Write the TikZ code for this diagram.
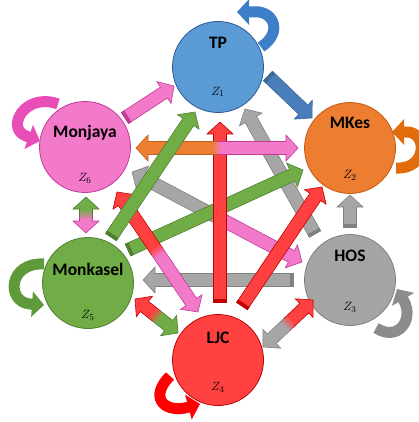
\documentclass[tikz,border=0pt]{standalone}
\usepackage{fontspec}
\newfontfamily\lblfont{Carlito}
\usetikzlibrary{arrows.meta,calc}
\definecolor{tpF}{HTML}{5B9BD5}\definecolor{tpL}{HTML}{2F5597}
\definecolor{mkF}{HTML}{ED7D31}\definecolor{mkL}{HTML}{C55A11}
\definecolor{hoF}{HTML}{A5A5A5}\definecolor{hoL}{HTML}{7F7F7F}
\definecolor{ljF}{HTML}{FF4141}\definecolor{ljL}{HTML}{C00000}
\definecolor{gkF}{HTML}{70AD47}\definecolor{gkL}{HTML}{507E32}
\definecolor{pkF}{HTML}{F27AC9}\definecolor{pkL}{HTML}{C0399B}
\definecolor{buF}{HTML}{4A7EBB}\definecolor{buL}{HTML}{3A6A9A}
\definecolor{orF}{HTML}{ED7D31}\definecolor{orL}{HTML}{C0601A}
\definecolor{grF}{HTML}{A6A6A6}\definecolor{grL}{HTML}{808080}
\definecolor{rdF}{HTML}{FF4040}\definecolor{rdL}{HTML}{C00000}
\definecolor{lpTP}{HTML}{3D7EC8}\definecolor{lpMK}{HTML}{E36C0A}
\definecolor{lpHO}{HTML}{8C8C8C}\definecolor{lpLJ}{HTML}{FF0000}
\definecolor{lpMJ}{HTML}{E84DB8}\definecolor{lpGK}{HTML}{5E9A3A}
\makeatletter
\newcommand\getvec[2]{%
  \pgfpointdiff{\pgfpointanchor{#1}{center}}{\pgfpointanchor{#2}{center}}%
  \edef\vx{\the\pgf@x}\edef\vy{\the\pgf@y}%
  \pgfmathsetmacro\vlen{veclen(\vx,\vy)}%
  \pgfmathsetmacro\vang{atan2(\vy,\vx)}%
}
\makeatother
\def\sw{6.5}\def\hw{13}\def\hl{12}\def\bl{5}
% single block arrow: tail, tip, colour prefix
\newcommand\sarrow[3]{%
  \getvec{#1}{#2}%
  \pgfmathsetmacro\vq{\vlen-\hl}%
  \begin{scope}[shift={(#1)}, rotate=\vang, x=1pt, y=1pt]
    \filldraw[fill=#3F, draw=#3L, line width=0.6pt, line join=miter]
      (0,-\sw) -- (\vq,-\sw) -- (\vq,-\hw) -- (\vlen,0) -- (\vq,\hw) -- (\vq,\sw) -- (0,\sw) -- cycle;
    \filldraw[fill=#3L, draw=#3L, line width=0.6pt] (0,-\sw) rectangle (3,\sw);
  \end{scope}}
% double block arrow: end P, end Q, colour at P, colour at Q
\newcommand\darrow[4]{%
  \getvec{#1}{#2}%
  \pgfmathsetmacro\vm{\vlen/2}%
  \pgfmathsetmacro\va{\vm-\bl}%
  \pgfmathsetmacro\vb{\vm+\bl}%
  \pgfmathsetmacro\vq{\vlen-\hl}%
  \begin{scope}[shift={(#1)}, rotate=\vang, x=1pt, y=1pt]
    \fill[#3F] (\va+0.3,-\sw) -- (\hl,-\sw) -- (\hl,-\hw) -- (0,0) -- (\hl,\hw) -- (\hl,\sw) -- (\va+0.3,\sw) -- cycle;
    \fill[#4F] (\vb-0.3,-\sw) -- (\vq,-\sw) -- (\vq,-\hw) -- (\vlen,0) -- (\vq,\hw) -- (\vq,\sw) -- (\vb-0.3,\sw) -- cycle;
    \foreach \i in {0,...,9}{%
      \pgfmathsetmacro\xa{\va+\i*(\vb-\va)/10}%
      \pgfmathsetmacro\xb{\va+(\i+1)*(\vb-\va)/10+0.3}%
      \pgfmathtruncatemacro\pc{95-\i*10}%
      \fill[#3F!\pc!#4F] (\xa,-\sw) rectangle (\xb,\sw);}
    \draw[#3L, line width=0.6pt, line join=miter] (\vm,-\sw) -- (\hl,-\sw) -- (\hl,-\hw) -- (0,0) -- (\hl,\hw) -- (\hl,\sw) -- (\vm,\sw);
    \draw[#4L, line width=0.6pt, line join=miter] (\vm,-\sw) -- (\vq,-\sw) -- (\vq,-\hw) -- (\vlen,0) -- (\vq,\hw) -- (\vq,\sw) -- (\vm,\sw);
  \end{scope}}
\begin{document}
\begin{tikzpicture}[x=1pt, y=-1pt,
  circ/.style={circle, minimum size=91pt, inner sep=0pt, line width=0.8pt},
  lab/.style={font=\lblfont\bfseries\fontsize{17.5}{20}\selectfont, inner sep=0pt},
  zl/.style={font=\fontsize{13}{15}\selectfont, inner sep=0pt},
  loop/.style={line width=11pt, -{Triangle[length=12pt,width=25pt]}}]
\useasboundingbox (0,0) rectangle (418,422);
% nodes
\node[circ, fill=tpF, draw=tpL] (TP) at (218,67) {};
\node[circ, fill=mkF, draw=mkL] (MK) at (350,148) {};
\node[circ, fill=hoF, draw=hoL] (HO) at (350,280) {};
\node[circ, fill=ljF, draw=ljL] (LJ) at (218,360) {};
\node[circ, fill=gkF, draw=gkL] (GK) at (88,283) {};
\node[circ, fill=pkF, draw=pkL] (MJ) at (85,147) {};
\node[lab] (TPn) at (218,43) {TP};
\node[lab] (MKn) at (350,123) {MKes};
\node[lab] (HOn) at (350,256) {HOS};
\node[lab] (LJn) at (218,338) {LJC};
\node[lab] (GKn) at (88,269) {Monkasel};
\node[lab] (MJn) at (85,133) {Monjaya};
\node[zl] (TPz) at (218,92) {$Z_1$};
\node[zl] (MKz) at (350,175) {$Z_2$};
\node[zl] (HOz) at (350,307) {$Z_3$};
\node[zl] (LJz) at (218,387) {$Z_4$};
\node[zl] (GKz) at (88,315) {$Z_5$};
\node[zl] (MJz) at (85,178) {$Z_6$};
% arrow end points
\coordinate (a1t) at (125,118); \coordinate (a1h) at (174,86);
\coordinate (a2t) at (268,76);  \coordinate (a2h) at (312,118);
\coordinate (d1p) at (86,197);  \coordinate (d1q) at (86,233);
\coordinate (d2p) at (136,148); \coordinate (d2q) at (298,148);
\coordinate (d3p) at (132,172); \coordinate (d3q) at (302,262);
\coordinate (d4p) at (117,192); \coordinate (d4q) at (198,312);
\coordinate (d5p) at (135,299); \coordinate (d5q) at (178,333);
\coordinate (d6p) at (313,300); \coordinate (d6q) at (263,347);
\coordinate (a3t) at (111,237); \coordinate (a3h) at (195,112);
\coordinate (a4t) at (128,250); \coordinate (a4h) at (303,170);
\coordinate (a5t) at (220,302); \coordinate (a5h) at (220,122);
\coordinate (a6t) at (315,234); \coordinate (a6h) at (245,109);
\coordinate (a7t) at (242,306); \coordinate (a7h) at (322,187);
\coordinate (a8t) at (350,227); \coordinate (a8h) at (350,195);
\coordinate (a9t) at (293,280); \coordinate (a9h) at (143,280);
% arrows
\sarrow{a9t}{a9h}{gr}
\sarrow{a6t}{a6h}{gr}
\darrow{d3p}{d3q}{gr}{pk}
\sarrow{a4t}{a4h}{gk}
\darrow{d4p}{d4q}{rd}{pk}
\sarrow{a5t}{a5h}{rd}
\sarrow{a7t}{a7h}{rd}
\darrow{d2p}{d2q}{or}{pk}
\sarrow{a3t}{a3h}{gk}
\sarrow{a8t}{a8h}{gr}
\sarrow{a1t}{a1h}{pk}
\sarrow{a2t}{a2h}{bu}
\darrow{d1p}{d1q}{gk}{pk}
\darrow{d5p}{d5q}{rd}{gk}
\darrow{d6p}{d6q}{rd}{gr}
% self loops
\coordinate (lTPa) at (261,47); \coordinate (lTPb) at (252,12); \coordinate (lTPc) at (237,12);
\draw[loop, lpTP] (lTPa) .. controls (284,32) and (273,9) .. (lTPb) -- (lTPc);
\coordinate (lMKa) at (396,168); \coordinate (lMKb) at (405,132); \coordinate (lMKc) at (392,132);
\draw[loop, lpMK] (lMKa) .. controls (428,170) and (428,130) .. (lMKb) -- (lMKc);
\coordinate (lHOa) at (376,328); \coordinate (lHOb) at (404,301); \coordinate (lHOc) at (397,289);
\draw[loop, lpHO] (lHOa) .. controls (398,342) and (414,320) .. (lHOb) -- (lHOc);
\coordinate (lMJa) at (58,104); \coordinate (lMJb) at (26,136); \coordinate (lMJc) at (40,141);
\draw[loop, lpMJ] (lMJa) .. controls (25,92) and (5,128) .. (lMJb) -- (lMJc);
\coordinate (lGKa) at (44,264); \coordinate (lGKb) at (30,304); \coordinate (lGKc) at (44,305);
\draw[loop, lpGK] (lGKa) .. controls (8,262) and (6,302) .. (lGKb) -- (lGKc);
\coordinate (lLJa) at (170,376); \coordinate (lLJb) at (185,408); \coordinate (lLJc) at (200,404);
\draw[loop, lpLJ] (lLJa) .. controls (150,396) and (162,412) .. (lLJb) -- (lLJc);
\end{tikzpicture}
\end{document}
